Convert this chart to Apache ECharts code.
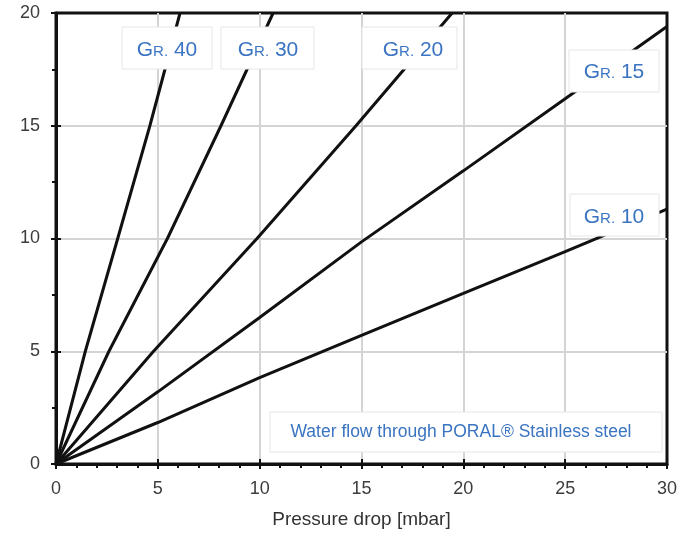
<!DOCTYPE html>
<html>
<head>
<meta charset="utf-8">
<script src="https://cdn.jsdelivr.net/npm/echarts@6/dist/echarts.min.js"></script>
<style>
html,body{margin:0;padding:0;background:#fff;}
#c{width:697px;height:539px;}
</style>
</head>
<body>
<div id="c"></div>
<script>
// Flow (y) vs pressure drop (x, mbar) for PORAL grades
const gr40 = [[0,0],[1.44,5],[3.03,10],[4.61,15],[6.09,20]];
const gr30 = [[0,0],[2.6,5],[5.47,10],[8.1,15],[10.66,20]];
const gr20 = [[0,0],[4.79,5],[9.87,10],[14.73,15],[19.45,20]];
const gr15 = [[0,0],[5,3.2],[10,6.5],[15,9.85],[20,13.0],[25,16.2],[30,19.4]];
const gr10 = [[0,0],[5,1.84],[10,3.83],[15,5.7],[20,7.57],[25,9.42],[30,11.3]];

const seriesNames = ['Gr. 40','Gr. 30','Gr. 20','Gr. 15','Gr. 10'];
const gradeNumbers = ['40','30','20','15','10'];
const xTicks = [0,5,10,15,20,25,30];
const yTicks = [0,5,10,15,20];
const xName = 'Pressure drop [mbar]';
const noteText = 'Water flow through PORAL\u00ae Stainless steel';

const chart = echarts.init(document.getElementById('c'));
const blue = '#3a74c2';
const dataSets = [gr40, gr30, gr20, gr15, gr10];

// label boxes (layout only)
const boxes = [
  {x:122, y:27, w:90, h:42, cx:167, cy:49},
  {x:221, y:27, w:93, h:42, cx:268, cy:49},
  {x:362, y:27, w:95, h:42, cx:413, cy:49},
  {x:569, y:50, w:90, h:42, cx:614, cy:71},
  {x:570, y:194, w:89, h:42, cx:614, cy:216}
];
const graphics = [];
boxes.forEach((b, i) => {
  graphics.push({type:'rect', z:100, shape:{x:b.x, y:b.y, width:b.w, height:b.h},
    style:{fill:'#fff', stroke:'#e6e6e6', lineWidth:1}});
  graphics.push({type:'text', z:101, x:b.cx, y:b.cy,
    style:{text:'{a|G}{b|R.}{a| ' + gradeNumbers[i] + '}', align:'center', verticalAlign:'middle',
      rich:{
        a:{fontSize:21, fontFamily:'Liberation Sans', fill:blue, color:blue, lineHeight:24, verticalAlign:'bottom'},
        b:{fontSize:15, fontFamily:'Liberation Sans', fill:blue, color:blue, lineHeight:24, verticalAlign:'bottom', padding:[0,0,2,0]}
      }}});
});
graphics.push({type:'rect', z:100, shape:{x:270, y:412, width:392, height:40},
  style:{fill:'#fff', stroke:'#e6e6e6', lineWidth:1}});
graphics.push({type:'text', z:101, x:461, y:432,
  style:{text:noteText, align:'center', verticalAlign:'middle', fontSize:17.5,
    fontFamily:'Liberation Sans', fill:blue}});

const axisLabelStyle = {color:'#3c3c3c', fontSize:18, fontFamily:'Liberation Sans'};

chart.setOption({
  animation:false,
  grid:{left:56, right:30, top:13, bottom:75, show:true, borderColor:'#111', borderWidth:3, backgroundColor:'transparent'},
  xAxis:[{
    type:'value', min:xTicks[0], max:xTicks[xTicks.length-1], interval:5, position:'bottom',
    axisLine:{show:true, lineStyle:{color:'#111', width:3}},
    axisTick:{show:true, length:5, lineStyle:{color:'#111', width:2}},
    minorTick:{show:true, splitNumber:5, length:4, lineStyle:{color:'#111', width:2}},
    axisLabel:Object.assign({margin:16}, axisLabelStyle),
    splitLine:{show:true, showMinLine:false, showMaxLine:false, lineStyle:{color:'#d4d4d4', width:2}},
    name:xName, nameLocation:'middle', nameGap:46,
    nameTextStyle:{color:'#333', fontSize:19, fontFamily:'Liberation Sans'}
  },{
    type:'value', min:0, max:30, interval:5, position:'bottom',
    axisLine:{show:false}, axisLabel:{show:false}, splitLine:{show:false},
    axisTick:{show:true, inside:true, length:5, lineStyle:{color:'#111', width:2}}
  }],
  yAxis:[{
    type:'value', min:yTicks[0], max:yTicks[yTicks.length-1], interval:5, position:'left',
    axisLine:{show:true, lineStyle:{color:'#111', width:3}},
    axisTick:{show:true, length:5, lineStyle:{color:'#111', width:2}},
    minorTick:{show:true, splitNumber:2, length:4, lineStyle:{color:'#111', width:2}},
    axisLabel:Object.assign({margin:16}, axisLabelStyle),
    splitLine:{show:true, showMinLine:false, showMaxLine:false, lineStyle:{color:'#d4d4d4', width:2}}
  },{
    type:'value', min:0, max:20, interval:5, position:'left',
    axisLine:{show:false}, axisLabel:{show:false}, splitLine:{show:false},
    axisTick:{show:true, inside:true, length:5, lineStyle:{color:'#111', width:2}}
  }],
  series: dataSets.map((d, i) => ({
    name:seriesNames[i], type:'line', data:d, showSymbol:false, symbol:'none',
    xAxisIndex:0, yAxisIndex:0, z:5,
    lineStyle:{color:'#111', width:3}
  })),
  graphic: graphics
});
</script>
</body>
</html>
